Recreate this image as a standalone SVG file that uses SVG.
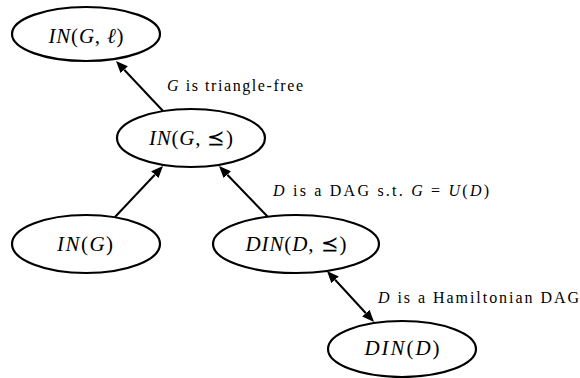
<svg xmlns="http://www.w3.org/2000/svg" width="580" height="378" viewBox="0 0 580 378">
<defs>
<marker id="ah" viewBox="0 0 12 10" refX="0" refY="5" markerWidth="12" markerHeight="10" markerUnits="userSpaceOnUse" orient="auto-start-reverse">
<path d="M0,0 L12,5 L0,10 z" fill="#000"/>
</marker>
</defs>
<g id="edges" stroke="#000" stroke-width="2">
<line x1="163" y1="111" x2="124.2" y2="69.8" marker-end="url(#ah)"/>
<line x1="115" y1="217" x2="154.8" y2="174.7" marker-end="url(#ah)"/>
<line x1="268" y1="217" x2="227.3" y2="174.7" marker-end="url(#ah)"/>
<line x1="335.1" y1="279.8" x2="365.9" y2="313.2" marker-start="url(#ah)" marker-end="url(#ah)"/>
</g>
<g id="n1"><ellipse cx="86" cy="34" rx="74" ry="27" fill="#fff" stroke="#000" stroke-width="2.2"/>
<text x="86" y="43" style="font-family:'Liberation Serif'" font-size="21" text-anchor="middle" textLength="75"><tspan font-style="italic">IN</tspan>(<tspan font-style="italic">G</tspan>, <tspan font-style="italic">ℓ</tspan>)</text></g>
<g id="n2"><ellipse cx="191" cy="138" rx="74" ry="29" fill="#fff" stroke="#000" stroke-width="2.2"/>
<text x="191" y="145" style="font-family:'Liberation Serif'" font-size="21" text-anchor="middle" textLength="84"><tspan font-style="italic">IN</tspan>(<tspan font-style="italic">G</tspan>, ⪯)</text></g>
<g id="n3"><ellipse cx="86" cy="244" rx="74" ry="29" fill="#fff" stroke="#000" stroke-width="2.2"/>
<text x="85" y="251" style="font-family:'Liberation Serif'" font-size="21" text-anchor="middle" textLength="56"><tspan font-style="italic">IN</tspan>(<tspan font-style="italic">G</tspan>)</text></g>
<g id="n4"><ellipse cx="296" cy="244" rx="83" ry="29" fill="#fff" stroke="#000" stroke-width="2.2"/>
<text x="296" y="251" style="font-family:'Liberation Serif'" font-size="21" text-anchor="middle" textLength="101"><tspan font-style="italic">DIN</tspan>(<tspan font-style="italic">D</tspan>, ⪯)</text></g>
<g id="n5"><ellipse cx="402" cy="349" rx="74" ry="28" fill="#fff" stroke="#000" stroke-width="2.2"/>
<text x="402" y="355" style="font-family:'Liberation Serif'" font-size="21" text-anchor="middle" textLength="75"><tspan font-style="italic">DIN</tspan>(<tspan font-style="italic">D</tspan>)</text></g>
<g id="labels">
<text x="167" y="91" style="font-family:'Liberation Serif'" font-size="16" textLength="136"><tspan font-style="italic">G</tspan> is triangle-free</text>
<text x="273" y="196" style="font-family:'Liberation Serif'" font-size="16" textLength="216"><tspan font-style="italic">D</tspan> is a DAG s.t. <tspan font-style="italic">G</tspan> = <tspan font-style="italic">U</tspan>(<tspan font-style="italic">D</tspan>)</text>
<text x="378" y="303" style="font-family:'Liberation Serif'" font-size="16" textLength="201"><tspan font-style="italic">D</tspan> is a Hamiltonian DAG</text>
</g>
</svg>
